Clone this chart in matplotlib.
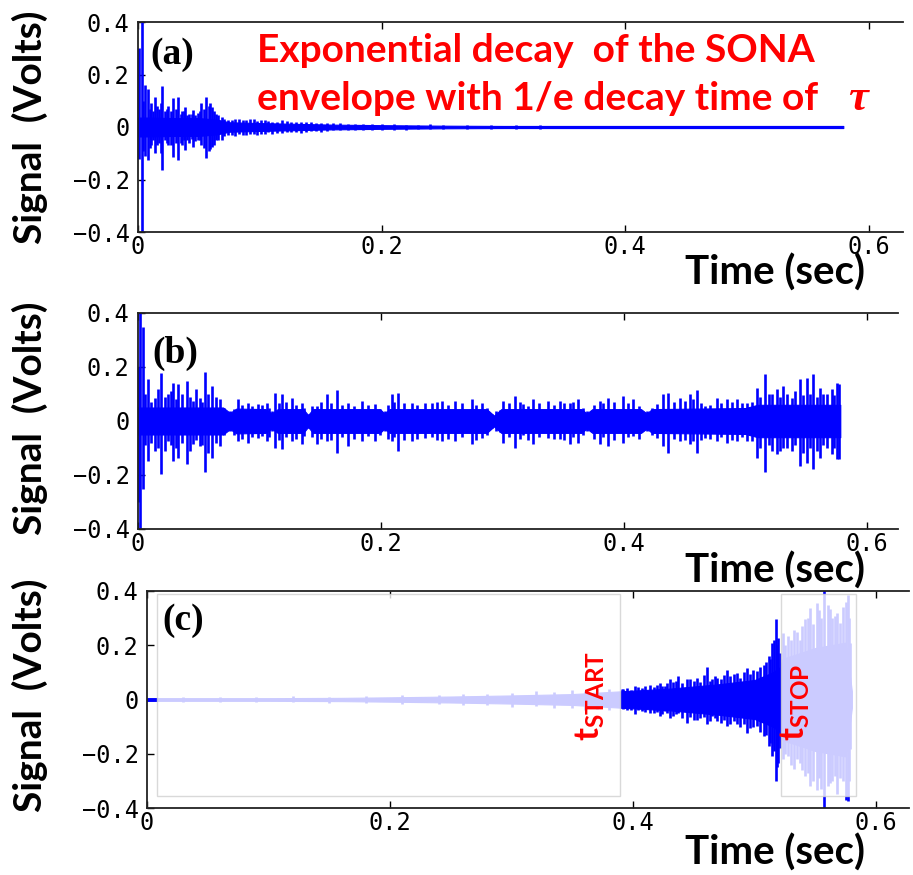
import numpy as np
import matplotlib.pyplot as plt
from matplotlib.patches import Rectangle

plt.rcParams['font.family'] = 'DejaVu Sans Mono'

BLUE = '#0000ff'

# --- (a) free ring-down: core envelope + individual peaks
a_core_t = [0.0, 0.01, 0.03, 0.05, 0.065, 0.075, 0.10, 0.13, 0.16, 0.20, 0.25, 0.30, 0.40, 0.50, 0.579]
a_core_amp = [0.036, 0.036, 0.034, 0.034, 0.028, 0.018, 0.015, 0.012, 0.009, 0.007, 0.005, 0.004, 0.004, 0.004, 0.004]
a_spk_t = [0.001, 0.003, 0.006, 0.008, 0.011, 0.014, 0.017, 0.0195, 0.022, 0.025,
           0.029, 0.031, 0.033, 0.036, 0.0386, 0.042, 0.0454, 0.049, 0.052, 0.056,
           0.058, 0.0605, 0.064, 0.0687, 0.074, 0.080, 0.086, 0.092, 0.098, 0.104,
           0.110, 0.118, 0.126, 0.134, 0.142, 0.150, 0.160, 0.172, 0.185, 0.200,
           0.220, 0.240]
a_spk_hi = [0.30, 0.42, 0.16, 0.145, 0.09, 0.115, 0.07, 0.156, 0.06, 0.08,
            0.11, 0.07, 0.114, 0.06, 0.076, 0.05, 0.065, 0.055, 0.09, 0.114,
            0.08, 0.076, 0.05, 0.038, 0.025, 0.03, 0.025, 0.03, 0.022, 0.028,
            0.02, 0.025, 0.018, 0.02, 0.02, 0.015, 0.015, 0.012, 0.012, 0.01,
            0.008, 0.01]
a_spk_lo = [-0.12, -0.42, -0.11, -0.126, -0.07, -0.10, -0.06, -0.164, -0.05, -0.07,
            -0.114, -0.06, -0.126, -0.07, -0.088, -0.06, -0.076, -0.05, -0.07, -0.118,
            -0.09, -0.076, -0.05, -0.05, -0.03, -0.035, -0.03, -0.028, -0.03, -0.025,
            -0.025, -0.022, -0.02, -0.022, -0.015, -0.018, -0.012, -0.012, -0.01, -0.01,
            -0.01, -0.008]
# smaller peaks between the big ones
a_min_t = [0.0045, 0.0095, 0.0125, 0.0155, 0.0185, 0.0235, 0.027, 0.035, 0.0375, 0.040,
           0.044, 0.047, 0.0505, 0.054, 0.0595, 0.062, 0.066, 0.071, 0.077, 0.083,
           0.089, 0.095, 0.101, 0.107, 0.114, 0.122, 0.130, 0.138, 0.146, 0.155,
           0.166, 0.178, 0.192, 0.21, 0.23, 0.25, 0.27, 0.29, 0.31, 0.33]
a_min_hi = [0.10, 0.07, 0.06, 0.08, 0.09, 0.07, 0.06, 0.05, 0.06, 0.045,
            0.05, 0.045, 0.06, 0.07, 0.09, 0.06, 0.045, 0.03, 0.028, 0.032,
            0.025, 0.03, 0.025, 0.022, 0.02, 0.022, 0.02, 0.018, 0.016, 0.015,
            0.014, 0.012, 0.011, 0.01, 0.009, 0.008, 0.008, 0.007, 0.007, 0.006]
a_min_lo = [-0.09, -0.08, -0.05, -0.07, -0.10, -0.06, -0.07, -0.06, -0.05, -0.05,
            -0.045, -0.055, -0.05, -0.08, -0.085, -0.07, -0.05, -0.035, -0.03, -0.028,
            -0.03, -0.025, -0.028, -0.02, -0.022, -0.02, -0.018, -0.02, -0.015, -0.016,
            -0.013, -0.012, -0.01, -0.01, -0.009, -0.008, -0.007, -0.008, -0.007, -0.006]

# --- (b) driven signal
b_core_t = [0.0, 0.070, 0.0757, 0.081, 0.105, 0.110, 0.115, 0.136, 0.140, 0.144,
            0.199, 0.203, 0.207, 0.287, 0.293, 0.299, 0.365, 0.3693, 0.374, 0.414,
            0.4187, 0.423, 0.500, 0.510, 0.578]
b_core_amp = [0.05, 0.05, 0.03, 0.046, 0.044, 0.028, 0.044, 0.044, 0.022, 0.044,
              0.044, 0.028, 0.044, 0.044, 0.02, 0.044, 0.044, 0.028, 0.044, 0.044,
              0.028, 0.044, 0.048, 0.06, 0.06]
b_spk_t = [0.0005, 0.002, 0.004, 0.0085, 0.014, 0.019, 0.025, 0.029, 0.033, 0.040,
           0.0455, 0.051, 0.055, 0.0606, 0.0675, 0.0757, 0.0826, 0.0908, 0.099, 0.106,
           0.110, 0.1128, 0.1183, 0.1265, 0.1347, 0.140, 0.147, 0.1553, 0.1635, 0.173,
           0.184, 0.195, 0.203, 0.2088, 0.2143, 0.2253, 0.2362, 0.250, 0.261, 0.2747,
           0.283, 0.291, 0.295, 0.3007, 0.3103, 0.317, 0.3254, 0.3377, 0.3473, 0.3556,
           0.3624, 0.3693, 0.3802, 0.3871, 0.3994, 0.4077, 0.4187, 0.4269, 0.4324, 0.4365,
           0.4461, 0.4543, 0.4598, 0.4667, 0.4763, 0.4845, 0.4927, 0.501, 0.5092, 0.516,
           0.5215, 0.5256, 0.5311, 0.538, 0.5449, 0.5503, 0.5558, 0.5613, 0.5668, 0.5709,
           0.575, 0.5772]
b_spk_hi = [0.20, 0.42, 0.35, 0.154, 0.086, 0.179, 0.10, 0.142, 0.136, 0.148,
            0.074, 0.086, 0.183, 0.13, 0.08, 0.037, 0.08, 0.068, 0.062, 0.068,
            0.037, 0.105, 0.099, 0.086, 0.068, 0.025, 0.056, 0.099, 0.114, 0.068,
            0.074, 0.062, 0.037, 0.101, 0.105, 0.068, 0.068, 0.074, 0.074, 0.080,
            0.068, 0.025, 0.037, 0.074, 0.093, 0.062, 0.080, 0.074, 0.074, 0.068,
            0.080, 0.037, 0.074, 0.086, 0.093, 0.080, 0.037, 0.062, 0.099, 0.105,
            0.086, 0.099, 0.114, 0.056, 0.086, 0.080, 0.080, 0.068, 0.123, 0.173,
            0.099, 0.117, 0.130, 0.086, 0.154, 0.160, 0.173, 0.123, 0.099, 0.117,
            0.142, 0.136]
b_spk_lo = [-0.30, -0.42, -0.25, -0.148, -0.111, -0.197, -0.074, -0.148, -0.136, -0.160,
            -0.086, -0.093, -0.190, -0.136, -0.093, -0.037, -0.074, -0.080, -0.062, -0.074,
            -0.037, -0.099, -0.105, -0.074, -0.086, -0.025, -0.086, -0.074, -0.117, -0.093,
            -0.074, -0.074, -0.037, -0.074, -0.111, -0.074, -0.062, -0.074, -0.074, -0.086,
            -0.062, -0.025, -0.037, -0.080, -0.099, -0.050, -0.086, -0.062, -0.068, -0.086,
            -0.080, -0.037, -0.086, -0.093, -0.080, -0.056, -0.037, -0.062, -0.093, -0.117,
            -0.074, -0.086, -0.117, -0.062, -0.074, -0.080, -0.074, -0.074, -0.136, -0.190,
            -0.111, -0.123, -0.099, -0.111, -0.167, -0.154, -0.179, -0.136, -0.099, -0.123,
            -0.142, -0.142]
b_min_t = [0.006, 0.011, 0.0165, 0.022, 0.027, 0.031, 0.036, 0.043, 0.048, 0.053,
           0.058, 0.064, 0.071, 0.079, 0.086, 0.094, 0.102, 0.108, 0.116, 0.122,
           0.130, 0.137, 0.143, 0.151, 0.159, 0.168, 0.178, 0.189, 0.199, 0.206,
           0.211, 0.219, 0.230, 0.242, 0.246, 0.255, 0.267, 0.278, 0.287, 0.298,
           0.305, 0.314, 0.321, 0.330, 0.342, 0.351, 0.358, 0.366, 0.375, 0.383,
           0.392, 0.403, 0.412, 0.423, 0.441, 0.450, 0.457, 0.463, 0.471, 0.480,
           0.489, 0.497, 0.505, 0.512, 0.519, 0.528, 0.534, 0.541, 0.547, 0.553,
           0.559, 0.564, 0.573]
b_min_hi = [0.10, 0.07, 0.12, 0.09, 0.11, 0.08, 0.10, 0.09, 0.12, 0.07,
            0.10, 0.09, 0.05, 0.045, 0.06, 0.055, 0.06, 0.05, 0.065, 0.07,
            0.06, 0.05, 0.055, 0.07, 0.065, 0.06, 0.055, 0.06, 0.045, 0.06,
            0.07, 0.065, 0.06, 0.065, 0.07, 0.06, 0.065, 0.06, 0.05, 0.04,
            0.065, 0.07, 0.055, 0.065, 0.06, 0.065, 0.07, 0.05, 0.06, 0.065,
            0.07, 0.065, 0.055, 0.05, 0.07, 0.075, 0.08, 0.065, 0.06, 0.065,
            0.07, 0.065, 0.07, 0.09, 0.10, 0.09, 0.10, 0.11, 0.095, 0.10,
            0.09, 0.10, 0.095]
b_min_lo = [-0.09, -0.08, -0.10, -0.11, -0.09, -0.10, -0.08, -0.11, -0.07, -0.09,
            -0.12, -0.08, -0.05, -0.05, -0.065, -0.06, -0.055, -0.06, -0.07, -0.06,
            -0.065, -0.055, -0.06, -0.065, -0.07, -0.06, -0.065, -0.055, -0.05, -0.065,
            -0.06, -0.07, -0.065, -0.06, -0.07, -0.065, -0.06, -0.07, -0.05, -0.04,
            -0.06, -0.065, -0.07, -0.06, -0.065, -0.07, -0.06, -0.05, -0.065, -0.06,
            -0.07, -0.06, -0.065, -0.05, -0.065, -0.07, -0.075, -0.07, -0.065, -0.06,
            -0.07, -0.06, -0.075, -0.10, -0.09, -0.11, -0.10, -0.09, -0.12, -0.10,
            -0.11, -0.09, -0.10]

# --- (c) chirped growth with start/stop windows
c_core_t = [0.0, 0.10, 0.16, 0.20, 0.25, 0.30, 0.35, 0.389, 0.43, 0.47,
            0.50, 0.515, 0.521, 0.523, 0.55, 0.575, 0.580]
c_core_amp = [0.005, 0.005, 0.006, 0.008, 0.011, 0.015, 0.02, 0.03, 0.04, 0.056,
              0.072, 0.10, 0.12, 0.15, 0.19, 0.21, 0.03]
c_spk_t = [0.3907, 0.3948, 0.4016, 0.4072, 0.414, 0.4222, 0.4263, 0.4305, 0.4373, 0.4442,
           0.4524, 0.4607, 0.4648, 0.4689, 0.4771, 0.4853, 0.4936, 0.5018, 0.5073, 0.5114,
           0.5141, 0.516, 0.5174, 0.5196, 0.5232, 0.5278, 0.532, 0.5374, 0.5416, 0.5457,
           0.5512, 0.5572, 0.5621, 0.5663, 0.5704, 0.5764, 0.5786]
c_spk_hi = [0.037, 0.043, 0.049, 0.043, 0.055, 0.061, 0.049, 0.074, 0.088, 0.074,
            0.080, 0.119, 0.074, 0.080, 0.110, 0.098, 0.117, 0.105, 0.129, 0.160,
            0.209, 0.220, 0.295, 0.228, 0.246, 0.234, 0.258, 0.221, 0.295, 0.338,
            0.357, 0.45, 0.332, 0.308, 0.283, 0.387, 0.209]
c_spk_lo = [-0.031, -0.037, -0.055, -0.043, -0.049, -0.061, -0.043, -0.068, -0.049, -0.086,
            -0.074, -0.092, -0.061, -0.080, -0.098, -0.092, -0.123, -0.098, -0.135, -0.172,
            -0.209, -0.19, -0.301, -0.234, -0.221, -0.209, -0.258, -0.234, -0.283, -0.320,
            -0.332, -0.45, -0.308, -0.283, -0.29, -0.375, -0.184]
c_min_t = [0.03, 0.06, 0.09, 0.12, 0.15, 0.18, 0.21, 0.24, 0.26, 0.28,
           0.30, 0.32, 0.335, 0.35, 0.36, 0.37, 0.38,
           0.392, 0.398, 0.404, 0.410, 0.417, 0.420, 0.424, 0.428, 0.433, 0.435,
           0.440, 0.447, 0.450, 0.455, 0.458, 0.463, 0.467, 0.472, 0.475, 0.480,
           0.483, 0.488, 0.491, 0.496, 0.499, 0.504, 0.509, 0.513, 0.5185, 0.5205,
           0.525, 0.530, 0.535, 0.539, 0.544, 0.548, 0.553, 0.555, 0.560, 0.564,
           0.568, 0.573, 0.575, 0.5775]
c_min_hi = [0.01, 0.008, 0.01, 0.012, 0.01, 0.014, 0.015, 0.018, 0.02, 0.022,
            0.025, 0.03, 0.028, 0.035, 0.033, 0.04, 0.038,
            0.04, 0.035, 0.045, 0.05, 0.045, 0.055, 0.05, 0.06, 0.065, 0.07,
            0.06, 0.075, 0.07, 0.065, 0.09, 0.07, 0.085, 0.075, 0.09, 0.085,
            0.095, 0.08, 0.1, 0.095, 0.11, 0.12, 0.14, 0.15, 0.2, 0.17,
            0.2, 0.22, 0.25, 0.27, 0.3, 0.28, 0.33, 0.3, 0.35, 0.3,
            0.32, 0.34, 0.36, 0.3]
c_min_lo = [-0.01, -0.01, -0.008, -0.01, -0.012, -0.012, -0.016, -0.015, -0.022, -0.02,
            -0.027, -0.025, -0.032, -0.03, -0.037, -0.035, -0.04,
            -0.035, -0.04, -0.04, -0.045, -0.05, -0.045, -0.055, -0.05, -0.06, -0.055,
            -0.07, -0.065, -0.075, -0.07, -0.065, -0.08, -0.07, -0.085, -0.075, -0.09,
            -0.08, -0.1, -0.09, -0.105, -0.1, -0.12, -0.13, -0.16, -0.25, -0.18,
            -0.2, -0.24, -0.22, -0.26, -0.27, -0.3, -0.29, -0.33, -0.32, -0.3,
            -0.35, -0.3, -0.37, -0.3]

win_start = (0.008, 0.389)
win_stop = (0.522, 0.5835)
win_v = (-0.355, 0.39)

yticks = [-0.4, -0.2, 0, 0.2, 0.4]
ytick_labels = ['\u22120.4', '\u22120.2', '0', '0.2', '0.4']
xticks = [0, 0.2, 0.4, 0.6]
xtick_labels = ['0', '0.2', '0.4', '0.6']

W, H = 913, 875
fig = plt.figure(figsize=(W / 100, H / 100), dpi=100)


def fx(px):
    return px / W


def fy(py):
    return 1 - py / H


def make_axes(left, right, top, bottom, xmax):
    ax = fig.add_axes([fx(left), fy(bottom), (right - left) / W, (bottom - top) / H])
    ax.set_xlim(0, xmax)
    ax.set_ylim(-0.4, 0.4)
    ax.set_xticks(xticks)
    ax.set_xticklabels(xtick_labels)
    ax.set_yticks(yticks)
    ax.set_yticklabels(ytick_labels)
    ax.tick_params(direction='in', length=5, width=1, top=True, right=False,
                   labelsize=17)
    ax.tick_params(axis='y', pad=6)
    ax.tick_params(axis='x', pad=2)
    ax.spines['right'].set_visible(False)
    for s in ['left', 'top', 'bottom']:
        ax.spines[s].set_linewidth(1.3)
        ax.spines[s].set_color('#222222')
    return ax


def draw_trace(ax, core_t, core_amp, peaks):
    amp = np.asarray(core_amp)
    ax.fill_between(core_t, -amp, amp, color=BLUE, lw=0.8, zorder=2)
    for pt, phi, plo in peaks:
        ax.vlines(pt, plo, phi, color=BLUE, lw=1.9, zorder=2)


ax_a = make_axes(138, 903, 22, 232, 0.628)
ax_b = make_axes(138, 898, 313, 529, 0.6255)
ax_c = make_axes(147, 909, 591, 808, 0.627)

draw_trace(ax_a, a_core_t, a_core_amp,
           [(a_spk_t, a_spk_hi, a_spk_lo), (a_min_t, a_min_hi, a_min_lo)])
draw_trace(ax_b, b_core_t, b_core_amp,
           [(b_spk_t, b_spk_hi, b_spk_lo), (b_min_t, b_min_hi, b_min_lo)])
draw_trace(ax_c, c_core_t, c_core_amp,
           [(c_spk_t, c_spk_hi, c_spk_lo), (c_min_t, c_min_hi, c_min_lo)])

# fade the parts of (c) outside the fitting window
for t0, t1 in (win_start, win_stop):
    ax_c.add_patch(Rectangle((t0, win_v[0]), t1 - t0, win_v[1] - win_v[0],
                             facecolor='white', alpha=0.8, edgecolor='#d0d0d0',
                             lw=1.0, zorder=3))

label_font = dict(family='Lato', fontweight='bold', fontsize=28)
for yc in (127, 418, 695):
    fig.text(fx(30), fy(yc), 'Signal  (Volts)', rotation=90, ha='center',
             va='center', **label_font)
for yb in (285, 583, 865):
    fig.text(fx(865), fy(yb), 'Time (sec)', ha='right', va='baseline',
             family='Lato', fontweight='bold', fontsize=29)

panel_font = dict(family='Liberation Serif', fontweight='bold', fontsize=27)
fig.text(fx(172), fy(54), '(a)', ha='center', va='center', **panel_font)
fig.text(fx(175), fy(353), '(b)', ha='center', va='center', **panel_font)
fig.text(fx(183), fy(620), '(c)', ha='center', va='center', **panel_font)

red_font = dict(family='Lato', fontweight='bold', fontsize=28, color='red')
fig.text(fx(257), fy(62), 'Exponential decay  of the SONA', ha='left',
         va='baseline', **red_font)
fig.text(fx(257), fy(110), 'envelope with 1/e decay time of', ha='left',
         va='baseline', **red_font)
fig.text(fx(848), fy(110), '\u03c4', ha='left', va='baseline', color='red',
         family='Liberation Serif', fontweight='bold', style='italic', fontsize=32)

mark_font = dict(family='Lato', fontweight='bold', color='red', rotation=90,
                 ha='center', va='center', fontsize=25)
fig.text(fx(590), fy(696), r'$\mathregular{t_{START}}$', **mark_font)
fig.text(fx(795), fy(702), r'$\mathregular{t_{STOP}}$', **mark_font)

fig.savefig('out.png', dpi=100)
